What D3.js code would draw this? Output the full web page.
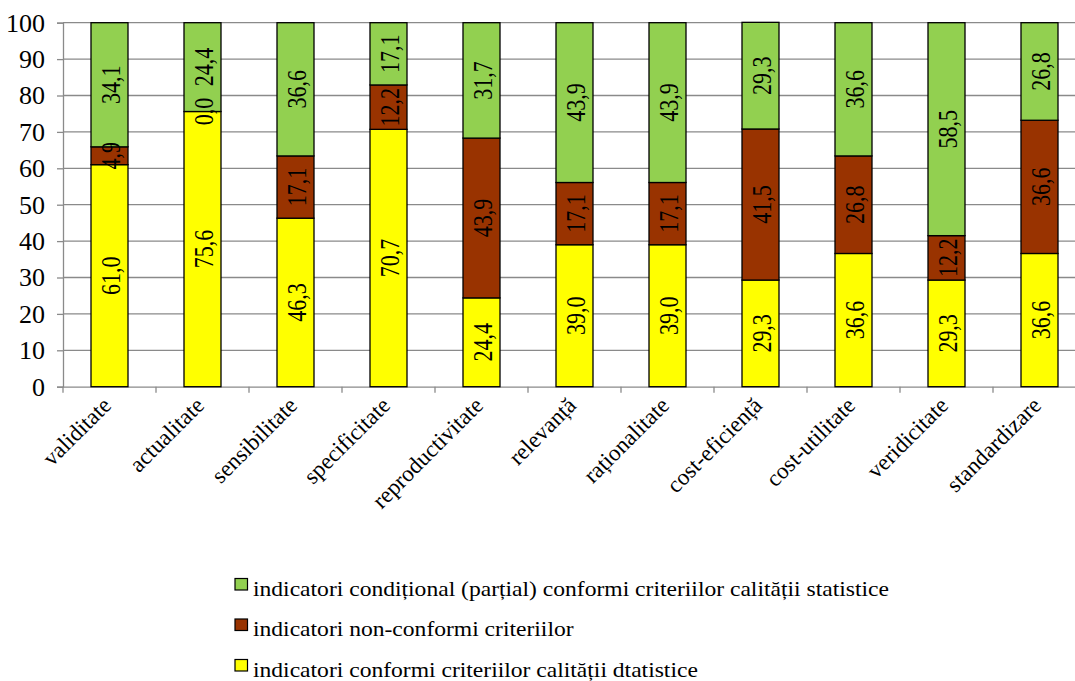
<!DOCTYPE html>
<html>
<head>
<meta charset="utf-8">
<script src="https://cdn.jsdelivr.net/npm/d3@7"></script>
<style>
  html, body { margin: 0; padding: 0; background: #fff; }
  svg { display: block; }
</style>
</head>
<body>
<svg id="chart" width="1075" height="681"></svg>
<script>
// Criteria evaluated
const categories = ["validitate", "actualitate", "sensibilitate", "specificitate",
  "reproductivitate", "relevanță", "raționalitate", "cost-eficiență",
  "cost-utilitate", "veridicitate", "standardizare"];

// Shares (%) per criterion, bottom to top
const conformi      = [61.0, 75.6, 46.3, 70.7, 24.4, 39.0, 39.0, 29.3, 36.6, 29.3, 36.6];
const nonConformi  = [4.9, 0.0, 17.1, 12.2, 43.9, 17.1, 17.1, 41.5, 26.8, 12.2, 36.6];
const conditionali = [34.1, 24.4, 36.6, 17.1, 31.7, 43.9, 43.9, 29.3, 36.6, 58.5, 26.8];

const yTicks = [0, 10, 20, 30, 40, 50, 60, 70, 80, 90, 100];

const seriesNames = [
  "indicatori conformi criteriilor calității dtatistice",
  "indicatori non-conformi criteriilor",
  "indicatori condițional (parțial) conformi criteriilor calității statistice"
];
const seriesColors = ["#FFFF00", "#993300", "#92D050"];

const rows = categories.map((c, i) => ({
  cat: c, s0: conformi[i], s1: nonConformi[i], s2: conditionali[i]
}));
const keys = ["s0", "s1", "s2"];
const stacked = d3.stack().keys(keys)(rows);

const svg = d3.select("#chart");
const plotLeft = 63, plotTop = 22.7, plotBottom = 386.7, plotRight = 63 + 11 * 93;
const FONT = '"Liberation Serif"';
const GRID = "#8a8a8a";

const x = d3.scaleBand().domain(categories).range([plotLeft, plotRight]).paddingInner(0).paddingOuter(0);
const y = d3.scaleLinear().domain([0, 100]).range([plotBottom, plotTop]);
const barW = 37;

// horizontal gridlines
svg.append("g").selectAll("line").data(yTicks.filter(t => t > 0)).join("line")
  .attr("x1", plotLeft).attr("x2", plotRight)
  .attr("y1", d => y(d)).attr("y2", d => y(d))
  .attr("stroke", GRID).attr("stroke-width", 1.3);

// y axis
const yAxis = svg.append("g").attr("transform", `translate(${plotLeft},0)`)
  .call(d3.axisLeft(y).tickValues(yTicks).tickSize(6).tickPadding(12).tickFormat(d3.format("d")));
yAxis.attr("font-family", null).attr("font-size", null);
yAxis.select(".domain").attr("stroke", GRID).attr("stroke-width", 1.3);
yAxis.selectAll(".tick line").attr("stroke", GRID).attr("stroke-width", 1.3);
yAxis.selectAll(".tick text")
  .attr("fill", "#000")
  .style("font-family", FONT)
  .style("font-size", "26px");

// x axis with ticks between categories
const xAxis = svg.append("g").attr("transform", `translate(0,${plotBottom})`)
  .call(d3.axisBottom(x).tickSize(0).tickFormat(""));
xAxis.select(".domain").attr("stroke", GRID).attr("stroke-width", 1.3);
svg.append("g").selectAll("line")
  .data(d3.range(categories.length + 1)).join("line")
  .attr("x1", i => plotLeft + i * x.bandwidth()).attr("x2", i => plotLeft + i * x.bandwidth())
  .attr("y1", plotBottom).attr("y2", plotBottom + 6)
  .attr("stroke", GRID).attr("stroke-width", 1.3);

// category labels, slanted 45°
svg.append("g").selectAll("text").data(categories).join("text")
  .attr("transform", d => `translate(${x(d) + x.bandwidth() / 2 + 3},${plotBottom + 20}) rotate(-45)`)
  .attr("text-anchor", "end")
  .attr("fill", "#000")
  .style("font-family", FONT)
  .style("font-size", "23px")
  .text(d => d);

// stacked bars
const layers = svg.append("g").selectAll("g").data(stacked).join("g")
  .attr("fill", (d, i) => seriesColors[i]);
layers.selectAll("rect").data(d => d).join("rect")
  .attr("x", d => x(d.data.cat) + x.bandwidth() / 2 - barW / 2)
  .attr("width", barW)
  .attr("y", d => y(d[1]))
  .attr("height", d => y(d[0]) - y(d[1]))
  .attr("stroke", "#000").attr("stroke-width", 1.3);

// value labels, drawn above every segment
const fmt = v => d3.format(".1f")(v).replace(".", ",");
svg.append("g").selectAll("g").data(stacked).join("g")
  .selectAll("text").data(d => d).join("text")
  .attr("transform", d => `translate(${x(d.data.cat) + x.bandwidth() / 2 + 1},${y((d[0] + d[1]) / 2)}) scale(1.25,1) rotate(-90)`)
  .attr("text-anchor", "middle")
  .attr("dy", "0.35em")
  .attr("fill", "#000")
  .style("font-family", FONT)
  .style("font-size", "22px")
  .text(d => fmt(d[1] - d[0]));

// legend (top entry is the last series)
const legendRows = [
  { name: seriesNames[2], color: seriesColors[2] },
  { name: seriesNames[1], color: seriesColors[1] },
  { name: seriesNames[0], color: seriesColors[0] }
];
const lg = svg.append("g").attr("transform", "translate(235,595.5)");
const item = lg.selectAll("g").data(legendRows).join("g")
  .attr("transform", (d, i) => `translate(0,${i * 40.5})`);
item.append("rect")
  .attr("x", 0).attr("y", -17).attr("width", 12.5).attr("height", 11.5)
  .attr("fill", d => d.color).attr("stroke", "#000").attr("stroke-width", 1.2);
item.append("text")
  .attr("transform", "translate(18,0) scale(1.15,1)")
  .attr("fill", "#000")
  .style("font-family", FONT)
  .style("font-size", "20.5px")
  .text(d => d.name);
</script>
</body>
</html>
